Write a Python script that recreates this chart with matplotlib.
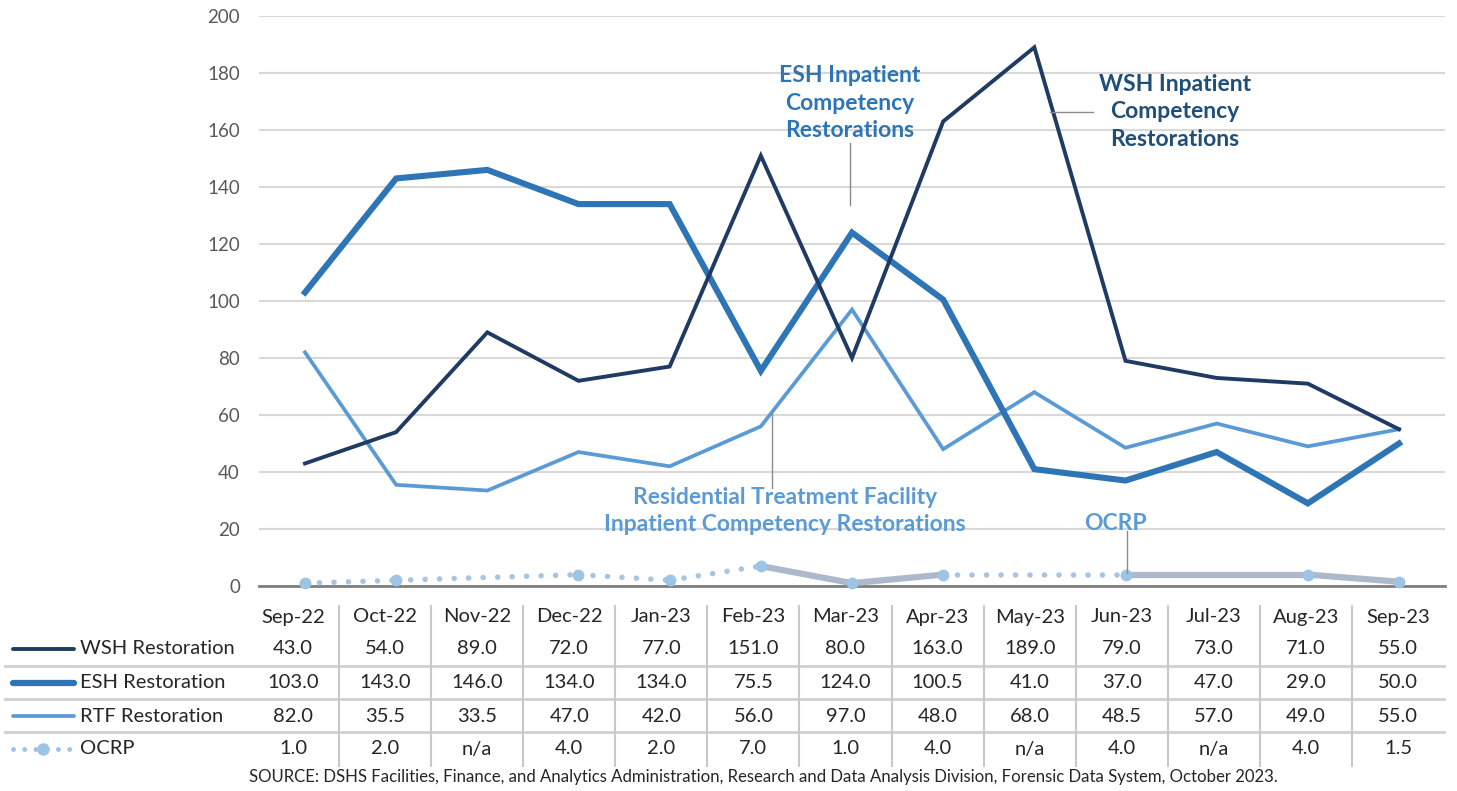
import numpy as np
import matplotlib.pyplot as plt
from matplotlib.lines import Line2D

months = ['Sep-22', 'Oct-22', 'Nov-22', 'Dec-22', 'Jan-23', 'Feb-23', 'Mar-23',
          'Apr-23', 'May-23', 'Jun-23', 'Jul-23', 'Aug-23', 'Sep-23']
wsh = [43.0, 54.0, 89.0, 72.0, 77.0, 151.0, 80.0, 163.0, 189.0, 79.0, 73.0, 71.0, 55.0]
esh = [103.0, 143.0, 146.0, 134.0, 134.0, 75.5, 124.0, 100.5, 41.0, 37.0, 47.0, 29.0, 50.0]
rtf = [82.0, 35.5, 33.5, 47.0, 42.0, 56.0, 97.0, 48.0, 68.0, 48.5, 57.0, 49.0, 55.0]
ocrp = [1.0, 2.0, None, 4.0, 2.0, 7.0, 1.0, 4.0, None, 4.0, None, 4.0, 1.5]
# OCRP segments drawn solid start at these months, the rest dotted
ocrp_solid_from = ['Feb-23', 'Mar-23', 'Jun-23', 'Aug-23']

series_names = ['WSH Restoration', 'ESH Restoration', 'RTF Restoration', 'OCRP']
source = ('SOURCE: DSHS Facilities, Finance, and Analytics Administration, Research and '
          'Data Analysis Division, Forensic Data System, October 2023.')

c_wsh, c_esh, c_rtf = '#1F3B63', '#2E75B6', '#5B9BD5'
c_ocrp_m, c_ocrp_l = '#9DC3E6', '#ADB9CA'
grey_txt = '#595959'

plt.rcParams['font.family'] = ['Lato', 'DejaVu Sans']

W, H = 1457, 791
fig = plt.figure(figsize=(W / 100, H / 100), dpi=100)

# main plot axes placed by pixel box
L, R, T, B = 259.4, 1444.6, 16, 586
ax = fig.add_axes([L / W, 1 - B / H, (R - L) / W, (B - T) / H])
x = np.arange(len(months))
ax.set_xlim(-0.5, len(months) - 0.5)
ax.set_ylim(0, 200)
ax.set_yticks(range(0, 201, 20))
ax.set_xticks([])
ax.tick_params(axis='y', length=0, pad=14, labelsize=13.5, labelcolor=grey_txt)
ax.grid(axis='y', color='#D9D9D9', lw=1.5)
ax.set_axisbelow(True)
for s in ['top', 'right', 'left']:
    ax.spines[s].set_visible(False)
ax.spines['bottom'].set_color('#7F7F7F')
ax.spines['bottom'].set_linewidth(2)

ax.plot(x, rtf, color=c_rtf, lw=2.7, solid_joinstyle='miter', zorder=3)
ax.plot(x, esh, color=c_esh, lw=4.4, solid_joinstyle='miter', zorder=4)
ax.plot(x, wsh, color=c_wsh, lw=2.8, solid_joinstyle='miter', zorder=5)

# OCRP: connect valid points, solid or dotted per segment
valid = [i for i, v in enumerate(ocrp) if v is not None]
for a, b in zip(valid[:-1], valid[1:]):
    if months[a] in ocrp_solid_from:
        ax.plot([a, b], [ocrp[a], ocrp[b]], color=c_ocrp_l, lw=4.5,
                solid_capstyle='butt', zorder=6)
    else:
        ax.plot([a, b], [ocrp[a], ocrp[b]], color='#A9C4E0', lw=4,
                linestyle=(0, (0.01, 2.6)), dash_capstyle='round', zorder=6)
ax.plot(valid, [ocrp[i] for i in valid], 'o', color=c_ocrp_m, ms=8.5,
        mec='none', zorder=7, clip_on=False)

# overlay in pixel units for labels, callouts and the data table
ov = fig.add_axes([0, 0, 1, 1])
ov.set_xlim(0, W)
ov.set_ylim(H, 0)
ov.axis('off')
ov.patch.set_alpha(0)

def callout(xs, ys):
    ov.add_line(Line2D(xs, ys, color='#8C8C8C', lw=1))

ann = dict(fontsize=16.5, fontweight='bold', ha='center', va='center', linespacing=1.38)
ov.text(850, 103, 'ESH Inpatient\nCompetency\nRestorations', color=c_esh, **ann)
callout([850, 850], [143, 205])
ov.text(1175, 112, 'WSH Inpatient\nCompetency\nRestorations', color='#1F4E79', **ann)
callout([1050, 1093], [112, 112])
ov.text(785, 511, 'Residential Treatment Facility\nInpatient Competency Restorations',
        color=c_rtf, **ann)
callout([772, 772], [488, 412])
ov.text(1115, 524, 'OCRP', color=c_rtf, **ann)
callout([1127, 1127], [531, 573])

# data table
tL, tR = 247, 1444
cw = (tR - tL) / len(months)
hdr_y = 617
row_y = [649, 683, 716, 749]
sep_y = [666, 699, 732]
tfs = 14.5
for yy in sep_y:
    ov.add_line(Line2D([5, tR], [yy, yy], color='#D0D0D0', lw=2))
for k in range(1, len(months)):
    xx = tL + k * cw
    ov.add_line(Line2D([xx, xx], [606, 766], color='#C8C8C8', lw=1.5))

def fmt(v):
    return 'n/a' if v is None else f'{v:.1f}'

for i, m in enumerate(months):
    cx = tL + (i + 0.5) * cw
    ov.text(cx, hdr_y, m, fontsize=tfs, ha='center', va='center', color='#262626')
    for r, vals in enumerate([wsh, esh, rtf, ocrp]):
        ov.text(cx, row_y[r], fmt(vals[i]), fontsize=tfs, ha='center',
                va='center', color='#262626')

# legend keys in the table
ov.add_line(Line2D([13, 74], [row_y[0]] * 2, color=c_wsh, lw=2.8, solid_capstyle='round'))
ov.add_line(Line2D([13, 74], [row_y[1]] * 2, color=c_esh, lw=4.5, solid_capstyle='round'))
ov.add_line(Line2D([13, 74], [row_y[2]] * 2, color=c_rtf, lw=2.7, solid_capstyle='round'))
ov.add_line(Line2D([13, 74], [row_y[3]] * 2, color=c_ocrp_m, lw=3.5,
                   linestyle=(0, (0.01, 2.3)), dash_capstyle='round'))
ov.plot([43], [row_y[3]], 'o', color=c_ocrp_m, ms=9, mec='none')
for r, name in enumerate(series_names):
    ov.text(80, row_y[r], name, fontsize=tfs, ha='left', va='center', color='#262626')

ov.text(763, 777, source, fontsize=12.1, ha='center', va='center', color='#262626',
        family=['Liberation Sans Narrow', 'Lato', 'DejaVu Sans'])

fig.savefig('out.png', dpi=100)
